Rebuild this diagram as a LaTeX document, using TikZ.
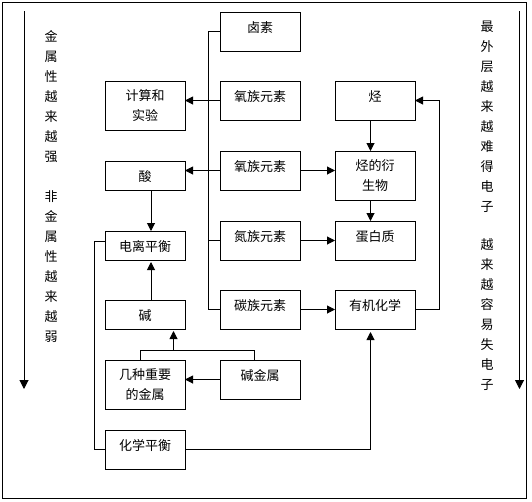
\documentclass[tikz,border=0pt]{standalone}
\usepackage{fontspec}
\setmainfont{Noto Sans CJK SC}
\usetikzlibrary{arrows.meta}
\begin{document}
\begin{tikzpicture}[x=1pt,y=-1pt,line width=1pt,
  box/.style={draw,minimum width=80pt,inner sep=0pt,outer sep=0pt,align=center,
    font=\fontsize{13}{19.5}\selectfont},
  one/.style={text height=20.9pt,text depth=#1},
  two/.style={minimum height=#1},
  arr/.style={-{Triangle[length=8pt,width=8pt]}},
  sidech/.style={inner sep=0pt,anchor=base,font=\fontsize{13}{15}\selectfont}]
\useasboundingbox (0,0) rectangle (532,501);
\draw (2,2) rectangle (526,498);

% middle column
\node[box,one=18.1pt] (lusu) at (260,31.5) {卤素};
\node[box,one=18.1pt] (yang1) at (260,100.5) {氧族元素};
\node[box,one=18.1pt] (yang2) at (260,170.5) {氧族元素};
\node[box,one=18.1pt] (dan) at (260,240.5) {氮族元素};
\node[box,one=18.1pt] (tan) at (260,309.5) {碳族元素};
\node[box,one=18.1pt] (jianjin) at (260,379.5) {碱金属};
% right column
\node[box,one=18.1pt] (ting) at (375,100.5) {烃};
\node[box,two=49pt] (yansheng) at (375,175.5) {烃的衍\\生物};
\node[box,one=18.1pt] (danbai) at (375,240.5) {蛋白质};
\node[box,one=18.1pt] (youji) at (375,309.5) {有机化学};
% left column
\node[box,two=49pt] (jisuan) at (145,105.5) {计算和\\实验};
\node[box,one=8.1pt] (suan) at (145,175.5) {酸};
\node[box,one=8.1pt] (dianli) at (145,245.5) {电离平衡};
\node[box,one=8.1pt] (jian) at (145,314.5) {碱};
\node[box,two=49pt] (jizhong) at (145,384.5) {几种重要\\的金属};
\node[box,one=18.1pt] (huaxue) at (145,449.5) {化学平衡};

% helper coordinates
\coordinate (cx) at (370.5,0);
\coordinate (sx) at (151,0);
\coordinate (jl) at (140,350);
\coordinate (jr) at (254,350);
\coordinate (ja) at (173.5,350);

% bus on the left of the element boxes
\draw (lusu.west) -- ++(-12,0) |- (tan.west);
\draw (dan.west) -- ++(-12,0);
\draw[arr] (yang1.west) -- (yang1.west -| jisuan.east);
\draw[arr] (yang2.west) -- (yang2.west -| suan.east);

% element boxes to organic
\draw[arr] (yang2.east) -- (yang2.east -| yansheng.west);
\draw[arr] (dan.east) -- (danbai.west);
\draw[arr] (tan.east) -- (youji.west);
\draw[arr] (cx |- ting.south) -- (cx |- yansheng.north);
\draw[arr] (cx |- yansheng.south) -- (cx |- danbai.north);
\draw[arr] (youji.east) -- ++(24,0) |- (ting.east);

% left column links
\draw[arr] (sx |- suan.south) -- (sx |- dianli.north);
\draw[arr,shorten >=2pt] (sx |- jian.north) -- (sx |- dianli.south);
\draw (jizhong.north -| jl) -- (jl) -- (jr) -- (jr |- jianjin.north);
\draw[arr,shorten >=2pt] (ja) -- (ja |- jian.south);
\draw[arr] (jianjin.west) -- (jianjin.west -| jizhong.east);
\draw ([yshift=4.5pt]dianli.west) -- ++(-11,0) |- (huaxue.west);
\draw[arr,shorten >=3pt] (huaxue.east) -| (cx |- youji.south);

% side arrows
\coordinate (la1) at (24,11);
\coordinate (la2) at (24,389);
\coordinate (ra1) at (519.5,11);
\coordinate (ra2) at (519.5,389);
\draw[-{Triangle[length=9pt,width=9pt]}] (la1) -- (la2);
\draw[-{Triangle[length=9pt,width=9pt]}] (ra1) -- (ra2);

% side texts
\foreach \c [count=\i from 0] in {金,属,性,越,来,越,强}
  \node[sidech] at (51,37+20*\i+4.9) {\c};
\foreach \c [count=\i from 0] in {非,金,属,性,越,来,越,弱}
  \node[sidech] at (51,197+20*\i+4.9) {\c};
\foreach \c [count=\i from 0] in {最,外,层,越,来,越,难,得,电,子}
  \node[sidech] at (487,27+20*\i+4.9) {\c};
\foreach \c [count=\i from 0] in {越,来,越,容,易,失,电,子}
  \node[sidech] at (487,245+20*\i+4.9) {\c};
\end{tikzpicture}
\end{document}
